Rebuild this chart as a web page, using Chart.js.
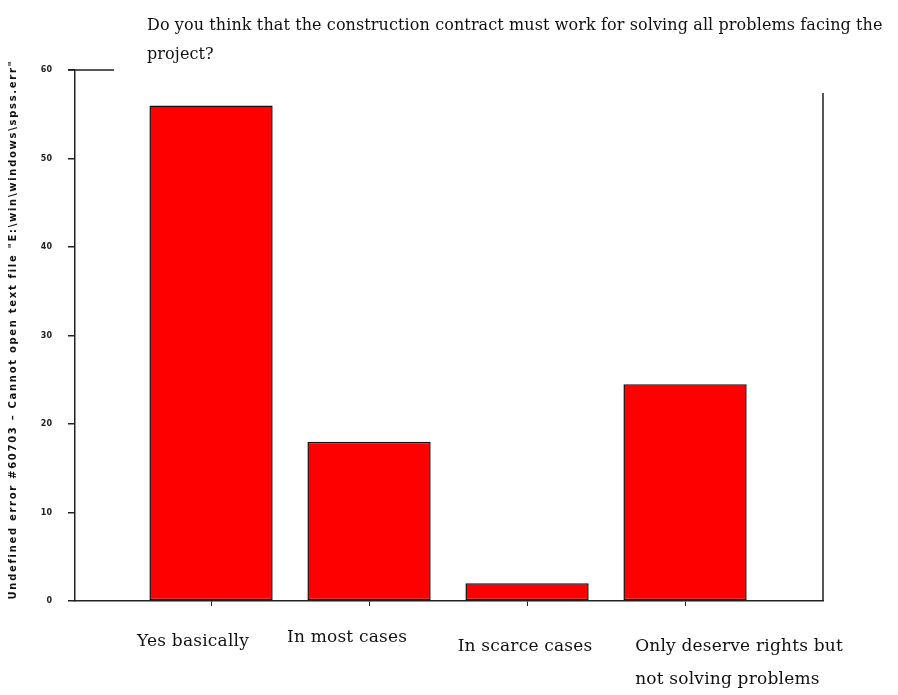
<!DOCTYPE html>
<html>
<head>
<meta charset="utf-8">
<script src="https://cdn.jsdelivr.net/npm/chart.js@4.4.1/dist/chart.umd.min.js"></script>
<style>
  html, body { margin: 0; padding: 0; background: #fff; }
  #wrap { width: 898px; height: 695px; position: relative; }
</style>
</head>
<body>
<div id="wrap"><canvas id="c"></canvas></div>
<script>
// ===== Datos =====
const categories = ['Yes basically', 'In most cases', 'In scarce cases', ['Only deserve rights but', 'not solving problems']];
const percents = [56, 18, 2, 24.5];
const yTicks = [0, 10, 20, 30, 40, 50, 60];
const titleLines = ['Do you think that the construction contract must work for solving all problems facing the', 'project?'];
const yTitle = 'Undefined error #60703 \u2013 Cannot open text file "E:\\win\\windows\\spss.err"';

const SERIF = "'DejaVu Serif', 'Liberation Serif', serif";
const RED = '#ff0000';

// desplazamiento de cada rótulo respecto a su barra (como en el original de SPSS)
const labelShift = [[-18, 41], [-22, 37], [-2, 46], [54, 46]];
const LINE_H = 33;

// marco, título y rótulos a mano
const frame = {
    id: 'frame',
    afterDraw(chart) {
        const { ctx, chartArea: a } = chart;
        const xs = chart.scales.x;
        ctx.save();
        ctx.strokeStyle = '#222';
        ctx.lineWidth = 1.5;
        ctx.beginPath();
        ctx.moveTo(a.left - 7, a.top); ctx.lineTo(a.left + 39, a.top);
        ctx.moveTo(a.right, a.top + 23); ctx.lineTo(a.right, a.bottom);
        ctx.stroke();

        ctx.fillStyle = '#111';
        ctx.font = '16px ' + SERIF;
        ctx.letterSpacing = '0.1px';
        ctx.textBaseline = 'middle';
        ctx.fillText(titleLines[0], 147, 26);
        ctx.fillText(titleLines[1], 147, 55);

        // rótulos de categoría (los de varias líneas, alineados a la izquierda)
        ctx.font = '17px ' + SERIF;
        ctx.letterSpacing = '0.2px';
        categories.forEach((c, i) => {
            const lines = Array.isArray(c) ? c : [c];
            const cx = xs.getPixelForValue(i) + labelShift[i][0];
            const x0 = cx - ctx.measureText(lines[0]).width / 2;
            lines.forEach((t, k) => ctx.fillText(t, x0, a.bottom + labelShift[i][1] + k * LINE_H));
        });

        ctx.translate(13, (a.top + a.bottom) / 2 - 6);
        ctx.rotate(-Math.PI / 2);
        ctx.font = 'bold 10px "DejaVu Sans"';
        ctx.letterSpacing = '1.7px';
        ctx.textAlign = 'center';
        ctx.fillText(yTitle, 0, 0);
        ctx.restore();
    }
};

new Chart(document.getElementById('c'), {
    type: 'bar',
    data: {
        datasets: [{
            data: percents.map((v, i) => ({ x: i, y: v })),
            backgroundColor: RED,
            borderColor: '#111',
            borderWidth: 1.5,
            borderSkipped: false,
            barPercentage: 0.78,
            categoryPercentage: 1
        }]
    },
    options: {
        responsive: true,
        maintainAspectRatio: false,
        animation: false,
        layout: { padding: { top: 70, right: 75, left: 0, bottom: 0 } },
        plugins: { legend: { display: false }, tooltip: { enabled: false }, title: { display: false } },
        scales: {
            x: {
                type: 'linear',
                offset: false,
                min: -0.861, max: 3.873,
                afterFit: s => { s.height = 94; },
                afterBuildTicks: s => { s.ticks = categories.map((c, i) => ({ value: i })); },
                grid: { display: true, offset: false, drawOnChartArea: false, tickLength: 5, color: '#222', lineWidth: 1 },
                border: { display: true, color: '#222', width: 1.5 },
                ticks: { display: false }
            },
            y: {
                min: 0, max: 60,
                afterFit: s => { s.width = 75; },
                afterBuildTicks: s => { s.ticks = yTicks.map(v => ({ value: v })); },
                grid: { display: true, drawOnChartArea: false, tickLength: 7, color: '#222', lineWidth: 1.5 },
                border: { display: true, color: '#222', width: 1.5 },
                ticks: { color: '#222', font: { family: 'DejaVu Sans', size: 8, weight: 'bold' }, padding: 16 }
            }
        }
    },
    plugins: [frame]
});
</script>
</body>
</html>
